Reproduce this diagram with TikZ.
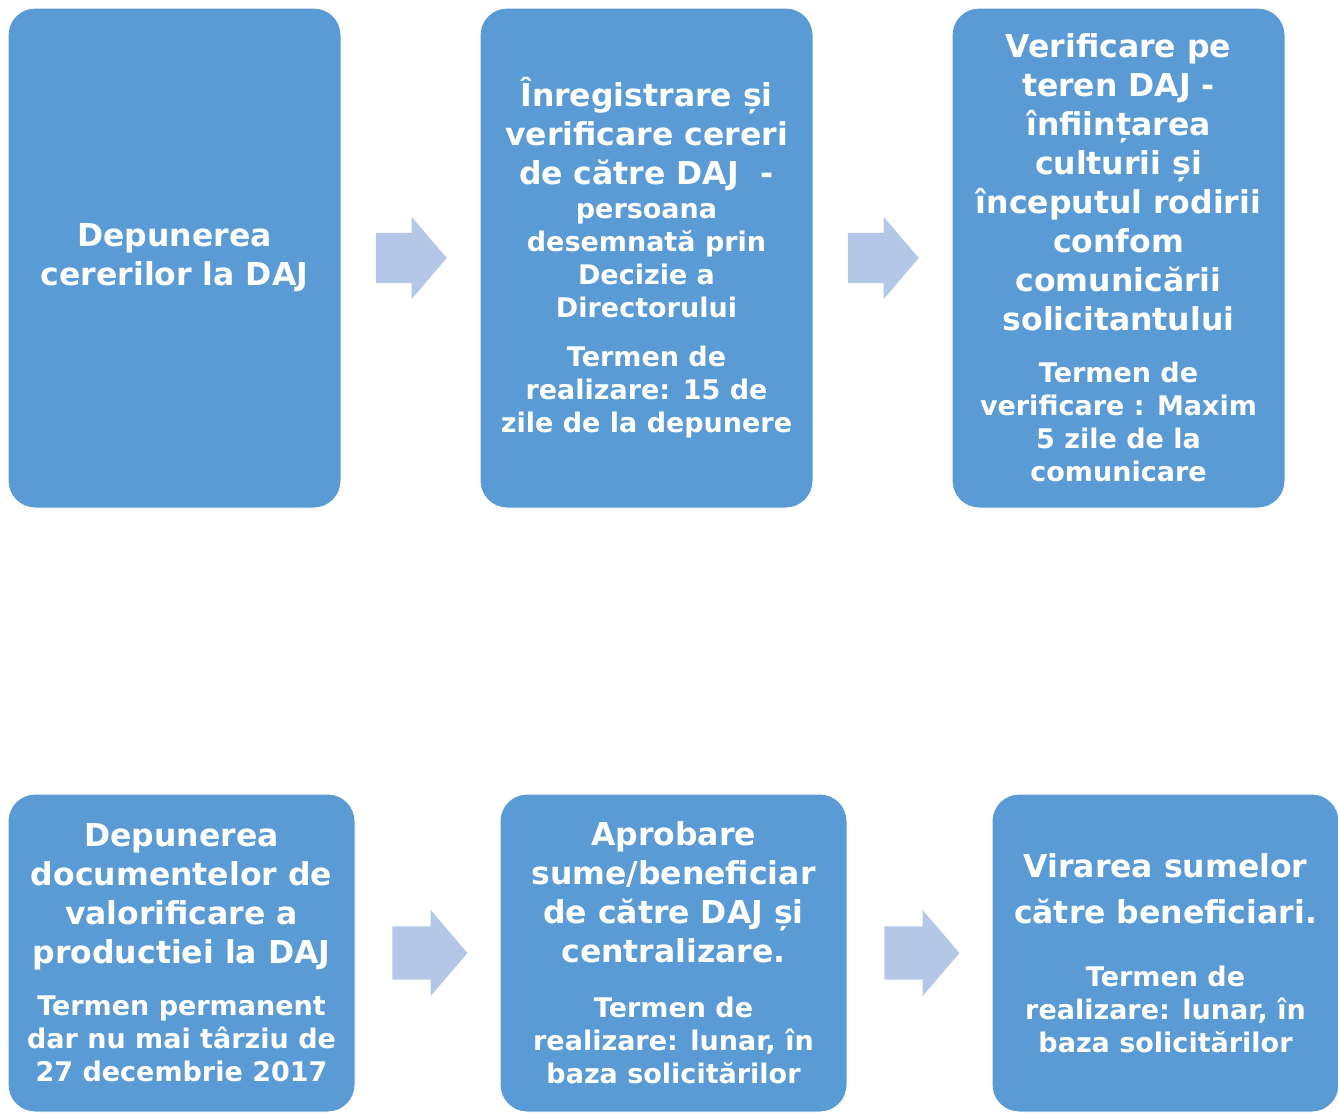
\documentclass[tikz,border=0pt]{standalone}
\usepackage{fontspec}
\setmainfont{DejaVu Sans}
\usetikzlibrary{positioning,shapes.arrows,calc}
\definecolor{boxblue}{HTML}{5B9BD5}
\definecolor{arrblue}{HTML}{B4C7E7}
\newcommand\mainsize{\fontsize{31.5}{39}\selectfont}
\newcommand\termsize{\fontsize{27}{33}\selectfont}

\begin{document}
\begin{tikzpicture}[x=1pt, y=-1pt,
  stage/.style={draw=white, line width=1pt, fill=boxblue, rounded corners=27pt,
    text=white, font=\mainsize\bfseries, align=flush center, inner sep=0pt,
    text width=333pt, minimum height=500pt},
  lowstage/.style={stage, text width=347pt, minimum height=318pt},
  flow/.style={shape=single arrow, fill=arrblue, inner xsep=0pt, inner ysep=25pt,
    minimum height=71pt, single arrow head extend=16pt, single arrow tip angle=99,
    xshift=-10pt},
  lowflow/.style={flow, minimum height=75pt, inner ysep=26.5pt,
    single arrow head extend=16.5pt, xshift=1pt}
]
\useasboundingbox (0,0) rectangle (1338,1112);

% first row
\node[stage] (b1) at (174.5,258) {Depunerea\\cererilor la DAJ\par};
\node[stage, right=138pt of b1] (b2) {Înregistrare și\\verificare cereri\\de către DAJ~~-\par
  \vspace{1pt}\termsize persoana\\desemnată prin\\Decizie a\\Directorului\par
  \vspace{16pt}Termen de\\realizare: 15 de\\zile de la depunere\par};
\node[stage, right=138pt of b2] (b3) {Verificare pe\\teren DAJ -\\înființarea\\culturii și\\începutul rodirii\\confom\\comunicării\\solicitantului\par
  \vspace{19pt}\termsize Termen de\\verificare : Maxim\\5 zile de la\\comunicare\par};

% second row
\node[lowstage, below=285pt of b1.south west, anchor=north west] (b4) {Depunerea\\documentelor de\\valorificare a\\productiei la DAJ\par
  \vspace{19pt}\termsize Termen permanent\\dar nu mai târziu de\\27 decembrie 2017\par};
\node[lowstage, right=144pt of b4] (b5) {Aprobare\\sume/beneficiar\\de către DAJ și\\centralizare.\par
  \vspace{22pt}\termsize Termen de\\realizare: lunar, în\\baza solicitărilor\par};
\node[lowstage, right=144pt of b5] (b6) {Virarea sumelor\\[7pt]către beneficiari.\par
  \vspace{30pt}\termsize Termen de\\realizare: lunar, în\\baza solicitărilor\par};

% block arrows
\node[flow] (f1) at ($(b1.east)!0.5!(b2.west)$) {};
\node[flow] (f2) at ($(b2.east)!0.5!(b3.west)$) {};
\node[lowflow] (f3) at ($(b4.east)!0.5!(b5.west)$) {};
\node[lowflow] (f4) at ($(b5.east)!0.5!(b6.west)$) {};
\end{tikzpicture}
\end{document}
